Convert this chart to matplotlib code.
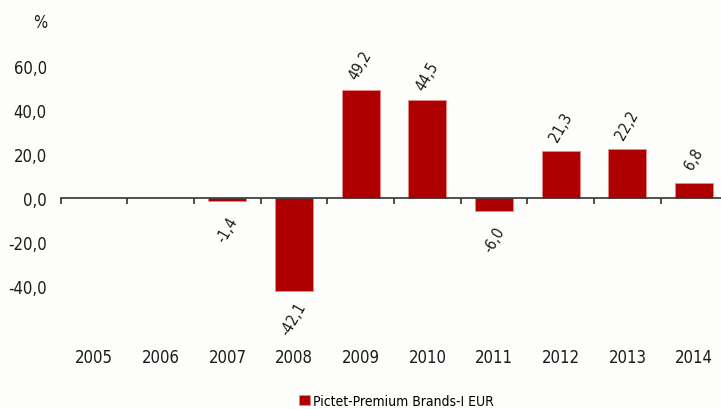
import matplotlib.pyplot as plt
import numpy as np

plt.rcParams['font.family'] = ['DejaVu Sans']
plt.rcParams['font.stretch'] = 'condensed'

years = ['2005', '2006', '2007', '2008', '2009', '2010', '2011', '2012', '2013', '2014']
values = [np.nan, np.nan, -1.4, -42.1, 49.2, 44.5, -6.0, 21.3, 22.2, 6.8]
series_name = 'Pictet-Premium Brands-I EUR'
yticks = [-40, -20, 0, 20, 40, 60]

bg = '#fdfdfb'
red = '#ae0000'

fig = plt.figure(figsize=(7.21, 4.10), dpi=100, facecolor=bg)
ax = fig.add_axes([60.7 / 721, 79 / 410, 666.7 / 721, 308 / 410], facecolor=bg)

x = np.arange(len(years))
ax.bar(x, values, width=0.57, color=red, edgecolor='#e88a8a', linewidth=0.6,
       label=series_name, zorder=2)

ax.set_xlim(-0.5, len(years) - 0.5)
ax.set_ylim(-60, 80)

for s in ['top', 'right', 'left']:
    ax.spines[s].set_visible(False)
ax.spines['bottom'].set_position(('data', 0))
ax.spines['bottom'].set_color('#333333')
ax.spines['bottom'].set_linewidth(1.2)
ax.spines['bottom'].set_zorder(3)

# ticks between the categories, no labels on the axis line
ax.set_xticks(np.arange(-0.5, len(years), 1.0))
ax.set_xticklabels([])
ax.tick_params(axis='x', length=4, width=1.2, color='#333333', direction='out')

ax.set_yticks(yticks)
ax.set_yticklabels([f'{v:.1f}'.replace('.', ',') for v in yticks])
ax.tick_params(axis='y', length=0, pad=10, labelsize=12, labelcolor='#1a1a1a')

# year labels at the bottom of the plot
for i, yr in enumerate(years):
    ax.text(i, -0.088, yr, transform=ax.get_xaxis_transform(), ha='center', va='center',
            fontsize=12, color='#1a1a1a')

# value labels
for i, v in enumerate(values):
    if np.isnan(v):
        continue
    off = 18 if v >= 0 else -20
    ax.annotate(f'{v:.1f}'.replace('.', ','), (i, v), xytext=(0, off),
                textcoords='offset points', ha='center', va='center',
                rotation=60, fontsize=11, color='#1a1a1a')

fig.text(40 / 721, 1 - 23 / 410, '%', ha='center', va='center', fontsize=12, color='#1a1a1a')

fig.legend(loc='center', bbox_to_anchor=(396 / 721, 1 - 402 / 410), frameon=False,
           fontsize=10, handlelength=0.8, handleheight=0.8, handletextpad=0.2)

fig.savefig('out.png', dpi=100, facecolor=bg)
